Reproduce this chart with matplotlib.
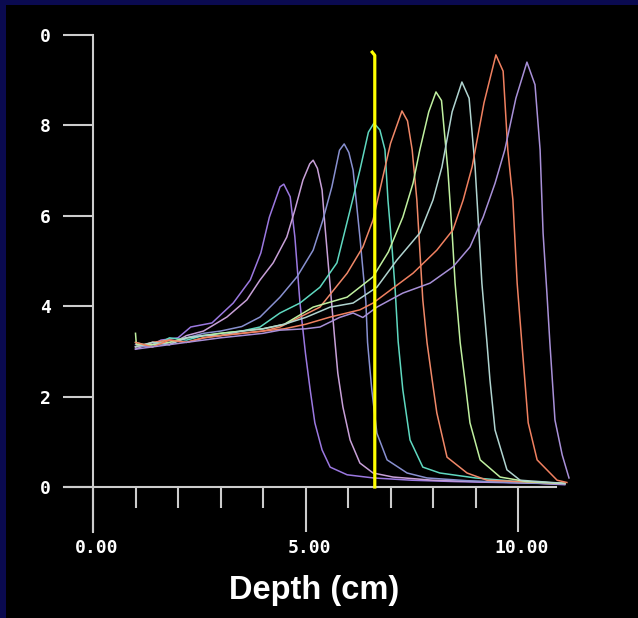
import matplotlib.pyplot as plt
from matplotlib.patches import Rectangle
from matplotlib.transforms import ScaledTranslation

# depth-dose curves (depth in cm, relative dose)
depth_1 = [1.0, 1.3, 1.6, 2.0, 2.3, 2.8, 3.3, 3.7, 3.95, 4.15, 4.4, 4.49, 4.64, 4.75, 4.87, 5.0, 5.11, 5.22, 5.39, 5.58, 5.98, 6.6, 7.5, 8.5, 9.5, 10.5, 11.1]
dose_1 = [3.15, 3.1, 3.25, 3.3, 3.54, 3.63, 4.07, 4.58, 5.18, 5.97, 6.64, 6.70, 6.42, 5.53, 4.07, 2.95, 2.15, 1.42, 0.82, 0.44, 0.27, 0.2, 0.15, 0.12, 0.1, 0.08, 0.05]

depth_2 = [1.0, 1.4, 1.8, 2.2, 2.6, 3.15, 3.62, 3.93, 4.24, 4.56, 4.75, 4.94, 5.1, 5.18, 5.28, 5.39, 5.46, 5.69, 5.76, 5.88, 6.05, 6.28, 6.59, 7.06, 8.0, 9.0, 10.0, 11.1]
dose_2 = [3.05, 3.2, 3.15, 3.35, 3.45, 3.76, 4.14, 4.58, 4.96, 5.53, 6.13, 6.79, 7.15, 7.23, 7.05, 6.57, 5.75, 3.25, 2.52, 1.77, 1.04, 0.53, 0.31, 0.22, 0.15, 0.12, 0.1, 0.06]

depth_3 = [1.0, 1.4, 1.8, 2.2, 2.6, 3.0, 3.5, 3.93, 4.40, 4.80, 5.18, 5.41, 5.62, 5.80, 5.91, 6.02, 6.12, 6.28, 6.42, 6.46, 6.56, 6.68, 6.92, 7.39, 7.86, 8.8, 9.8, 11.1]
dose_3 = [3.1, 3.15, 3.2, 3.3, 3.4, 3.45, 3.55, 3.76, 4.20, 4.65, 5.24, 5.91, 6.64, 7.45, 7.59, 7.4, 7.01, 5.53, 4.1, 3.2, 2.15, 1.19, 0.6, 0.31, 0.2, 0.14, 0.1, 0.07]

depth_4 = [1.0, 1.4, 1.8, 2.2, 2.6, 3.0, 3.5, 3.93, 4.40, 4.87, 5.34, 5.74, 6.05, 6.28, 6.48, 6.61, 6.75, 6.87, 6.94, 7.04, 7.11, 7.18, 7.29, 7.46, 7.76, 8.16, 9.0, 10.0, 11.1]
dose_4 = [3.2, 3.1, 3.3, 3.25, 3.35, 3.4, 3.45, 3.54, 3.85, 4.07, 4.42, 4.96, 6.13, 7.01, 7.85, 8.05, 7.9, 7.46, 6.35, 5.24, 4.36, 3.22, 2.15, 1.04, 0.44, 0.31, 0.2, 0.12, 0.08]

depth_5 = [1.0, 1.4, 1.8, 2.2, 2.6, 3.0, 3.5, 4.0, 4.40, 5.34, 5.98, 6.35, 6.59, 6.75, 7.0, 7.27, 7.40, 7.51, 7.62, 7.69, 7.76, 7.86, 7.98, 8.09, 8.33, 8.80, 9.27, 10.0, 11.1]
dose_5 = [3.1, 3.2, 3.25, 3.2, 3.3, 3.35, 3.4, 3.45, 3.54, 3.98, 4.73, 5.31, 5.91, 6.57, 7.6, 8.32, 8.1, 7.46, 6.35, 5.24, 4.14, 3.19, 2.37, 1.64, 0.66, 0.31, 0.15, 0.12, 0.08]

depth_6 = [1.0, 1.02, 1.4, 1.8, 2.2, 2.6, 3.0, 3.5, 4.0, 4.5, 5.18, 5.98, 6.59, 6.95, 7.29, 7.53, 7.69, 7.9, 8.07, 8.2, 8.35, 8.45, 8.52, 8.64, 8.75, 8.87, 9.11, 9.58, 10.2, 11.1]
dose_6 = [3.4, 3.15, 3.15, 3.2, 3.3, 3.35, 3.4, 3.45, 3.5, 3.6, 3.98, 4.20, 4.65, 5.2, 5.97, 6.72, 7.46, 8.3, 8.74, 8.55, 7.01, 5.62, 4.51, 3.19, 2.37, 1.42, 0.6, 0.22, 0.12, 0.08]

depth_7 = [1.0, 1.4, 1.8, 2.2, 2.6, 3.0, 3.5, 4.0, 4.5, 5.0, 5.58, 6.12, 6.68, 7.15, 7.69, 8.0, 8.21, 8.45, 8.68, 8.85, 8.99, 9.06, 9.15, 9.27, 9.34, 9.46, 9.74, 10.05, 11.1]
dose_7 = [3.1, 3.2, 3.15, 3.3, 3.35, 3.35, 3.45, 3.5, 3.6, 3.75, 3.98, 4.07, 4.42, 5.02, 5.62, 6.35, 7.08, 8.3, 8.96, 8.6, 7.08, 5.97, 4.51, 3.19, 2.37, 1.26, 0.38, 0.15, 0.08]

depth_8 = [1.0, 1.4, 1.8, 2.2, 2.6, 3.0, 3.5, 4.0, 4.5, 5.0, 5.58, 6.28, 6.59, 7.53, 8.09, 8.47, 8.71, 8.92, 9.2, 9.48, 9.65, 9.76, 9.88, 9.98, 10.09, 10.16, 10.24, 10.45, 10.92, 11.15]
dose_8 = [3.2, 3.1, 3.25, 3.2, 3.3, 3.35, 3.4, 3.45, 3.5, 3.6, 3.76, 3.92, 4.07, 4.73, 5.24, 5.69, 6.35, 7.08, 8.5, 9.56, 9.2, 7.46, 6.35, 4.51, 3.19, 2.37, 1.42, 0.6, 0.15, 0.1]

depth_9 = [1.0, 1.4, 1.8, 2.2, 2.6, 3.0, 3.5, 4.0, 4.40, 5.0, 5.34, 5.8, 6.12, 6.35, 6.68, 7.29, 7.93, 8.47, 8.87, 9.18, 9.46, 9.69, 9.95, 10.21, 10.4, 10.52, 10.59, 10.68, 10.75, 10.87, 11.04, 11.2]
dose_9 = [3.05, 3.1, 3.15, 3.2, 3.25, 3.3, 3.35, 3.4, 3.47, 3.5, 3.54, 3.75, 3.85, 3.75, 3.98, 4.29, 4.51, 4.87, 5.31, 5.97, 6.72, 7.46, 8.6, 9.40, 8.9, 7.46, 5.62, 4.29, 3.19, 1.48, 0.71, 0.2]

curve_depths = [depth_1, depth_2, depth_3, depth_4, depth_5, depth_6, depth_7, depth_8, depth_9]
curve_doses = [dose_1, dose_2, dose_3, dose_4, dose_5, dose_6, dose_7, dose_8, dose_9]
curve_colors = ["#9b78e0", "#c8a0d8", "#8890d0", "#5fd8c0", "#f08868",
                "#c0f0a0", "#b0d4d0", "#f08060", "#a890d8"]

# yellow depth cursor
cursor_depth = [6.57, 6.63, 6.63]
cursor_dose = [9.62, 9.55, 0.0]

y_ticks = [0, 2, 4, 6, 8, 10]
y_tick_labels = ["0", "2", "4", "6", "8", "0"]
x_major = [0, 5, 10]
x_major_labels = ["0.00", "5.00", "10.00"]
x_minor = [1, 2, 3, 4, 6, 7, 8, 9]

AXIS_COLOR = "#cccccc"
W, H = 638, 618
PX_PER_CM = 42.5
PX_PER_UNIT = 45.2
X0_PX, Y0_PX = 93, 487

fig = plt.figure(figsize=(W / 100, H / 100), dpi=100, facecolor="black")
ax = fig.add_axes([0, 0, 1, 1])
ax.set_facecolor("black")
ax.set_xlim(-X0_PX / PX_PER_CM, (W - X0_PX) / PX_PER_CM)
ax.set_ylim(-(H - Y0_PX) / PX_PER_UNIT, Y0_PX / PX_PER_UNIT)

for xs, ys, c in zip(curve_depths, curve_doses, curve_colors):
    ax.plot(xs, ys, color=c, lw=1.1, zorder=3)
ax.plot(cursor_depth, cursor_dose, color="#ffff00", lw=2.3, zorder=4)

for side in ["top", "right"]:
    ax.spines[side].set_visible(False)
ax.spines["left"].set_position(("data", 0))
ax.spines["bottom"].set_position(("data", 0))
ax.spines["left"].set_bounds(-1.0, 10.0)
ax.spines["bottom"].set_bounds(-0.68, 10.9)
for side in ["left", "bottom"]:
    ax.spines[side].set_color(AXIS_COLOR)
    ax.spines[side].set_linewidth(1.5)

tick_font = {"family": "DejaVu Sans Mono", "weight": "bold", "size": 13}
ax.set_yticks(y_ticks)
ax.set_yticklabels(y_tick_labels, fontdict=tick_font, color="white")
ax.set_xticks(x_major)
ax.set_xticklabels(x_major_labels, fontdict=tick_font, color="white")
ax.set_xticks(x_minor, minor=True)
ax.tick_params(axis="y", direction="out", length=21.6, width=1.5, color=AXIS_COLOR, pad=8.5)
ax.tick_params(axis="x", which="major", direction="out", length=32.4, width=1.5, color=AXIS_COLOR, pad=5)
ax.tick_params(axis="x", which="minor", direction="out", length=15, width=1.5, color=AXIS_COLOR)

# x labels in the reference sit a few pixels right of their ticks
shift = ScaledTranslation(4 / 100, 0, fig.dpi_scale_trans)
for lbl in ax.get_xticklabels():
    lbl.set_transform(lbl.get_transform() + shift)

fig.text(314 / W, 1 - 591 / H, "Depth (cm)", color="white", fontsize=23.5,
         fontweight="bold", family="Liberation Sans", ha="center", va="center")

# navy frame on top and left edges
fig.patches.append(Rectangle((0, 1 - 5 / H), 1, 5 / H, transform=fig.transFigure,
                             facecolor="#0a0a50", edgecolor="none", zorder=10))
fig.patches.append(Rectangle((0, 0), 6 / W, 1, transform=fig.transFigure,
                             facecolor="#0a0a50", edgecolor="none", zorder=10))

fig.savefig("out.png", dpi=100, facecolor="black")
